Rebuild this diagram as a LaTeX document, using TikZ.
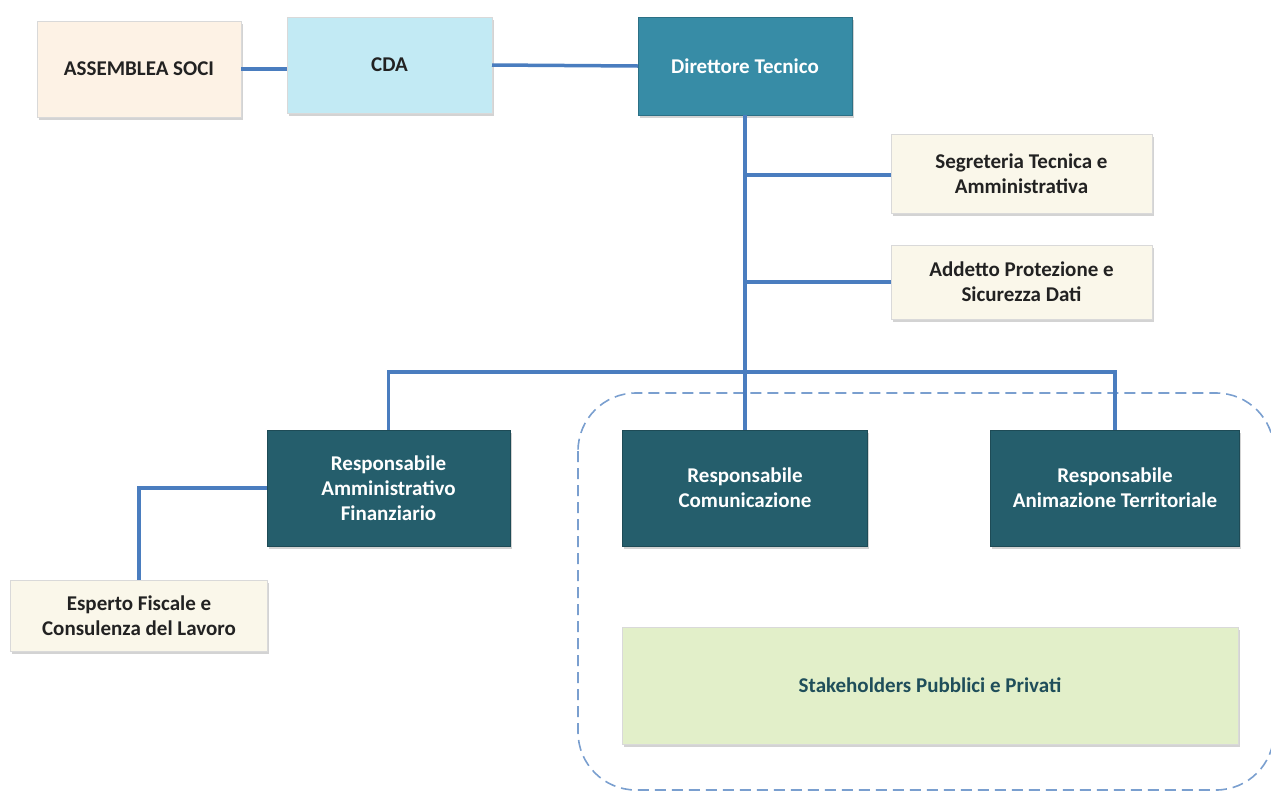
\documentclass[tikz,border=0pt]{standalone}
\usepackage{fontspec}
\setmainfont{Carlito}
\usetikzlibrary{shadows}
\definecolor{conn}{HTML}{4A7DBF}
\definecolor{dashc}{HTML}{7A9FCF}
\definecolor{peach}{HTML}{FDF2E5}
\definecolor{cyanl}{HTML}{C2EAF4}
\definecolor{teal}{HTML}{378CA6}
\definecolor{darkteal}{HTML}{255E6C}
\definecolor{cream}{HTML}{FAF7EA}
\definecolor{lgreen}{HTML}{E2EFC9}
\definecolor{txt}{HTML}{222222}
\definecolor{stktxt}{HTML}{1F4E5A}
\begin{document}
\begin{tikzpicture}[x=1pt,y=-1pt,
  box/.style={rectangle, inner sep=2pt, outer sep=0pt, align=center,
    font=\fontsize{21}{25}\selectfont\bfseries,
    drop shadow={opacity=0.35, shadow xshift=1.5pt, shadow yshift=-3pt},
    draw=black!15, line width=0.6pt},
  lightbox/.style={box, text=txt},
  darkbox/.style={box, fill=darkteal, text=white, draw=darkteal!80!black},
  link/.style={draw=conn, line width=3.5pt},
  dashbox/.style={draw=dashc, line width=1.6pt, dash pattern=on 11pt off 6pt, rounded corners=58pt}]
\useasboundingbox (0,0) rectangle (1271,793);
\draw[dashbox] (578,393) rectangle (1274,790);

\node[lightbox, fill=peach, minimum width=204, minimum height=96] (asm) at (139,69) {ASSEMBLEA SOCI};
\node[lightbox, fill=cyanl, minimum width=205, minimum height=96] (cda) at (389.5,65) {CDA};
\node[box, fill=teal, text=white, draw=teal!80!black, minimum width=214, minimum height=98] (dir) at (745,66) {Direttore Tecnico};
\node[lightbox, fill=cream, minimum width=261, minimum height=79] (seg) at (1021.5,173.5) {Segreteria Tecnica e\\Amministrativa};
\node[lightbox, fill=cream, minimum width=261, minimum height=74] (add) at (1021.5,282) {Addetto Protezione e\\Sicurezza Dati};
\node[darkbox, minimum width=243, minimum height=116] (raf) at (388.5,488) {Responsabile\\Amministrativo\\Finanziario};
\node[darkbox, minimum width=245, minimum height=116] (rc) at (745,488) {Responsabile\\Comunicazione};
\node[darkbox, minimum width=249, minimum height=116] (rat) at (1115,488) {Responsabile\\Animazione Territoriale};
\node[lightbox, fill=cream, minimum width=257, minimum height=71] (esp) at (139,615.5) {Esperto Fiscale e\\Consulenza del Lavoro};
\node[lightbox, fill=lgreen, text=stktxt, minimum width=616, minimum height=117] (stk) at (930,685.5) {Stakeholders Pubblici e Privati};

\coordinate (b1) at (745,175);
\coordinate (b2) at (745,282);
\coordinate (hl) at (388.5,372);
\coordinate (hr) at (1115,372);

\draw[link] (asm.east) -- (asm.east -| cda.west);
\draw[link] (cda.east) -- (dir.west);
\draw[link] (dir.south) -- (rc.north);
\draw[link] (b1) -- (b1 -| seg.west);
\draw[link] (b2) -- (b2 -| add.west);
\draw[link] (raf.north) -- (hl) -- (hr) -- (rat.north);
\draw[link] (raf.west) -| (esp.north);
\end{tikzpicture}
\end{document}
